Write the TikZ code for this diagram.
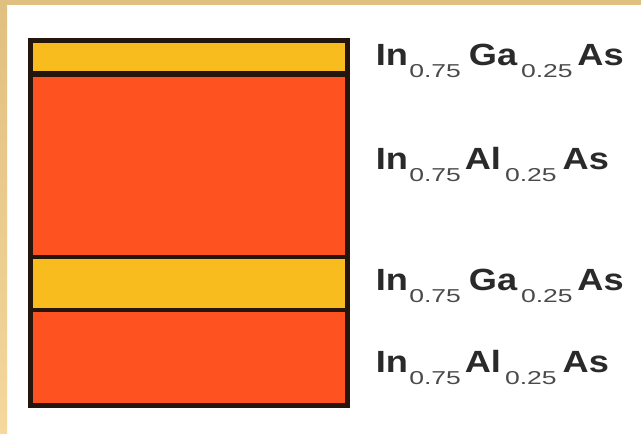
\documentclass[tikz,border=0pt]{standalone}
\usepackage{graphicx}
\usepackage{fontspec}
\setmainfont{Liberation Sans}
\definecolor{layorange}{HTML}{FF5221}
\definecolor{layyellow}{HTML}{F8BC1E}
\definecolor{edgedark}{HTML}{24160C}
\definecolor{frametop}{HTML}{DFC080}
\definecolor{framebot}{HTML}{F6D79C}
\definecolor{txt}{HTML}{2A2A2A}
\definecolor{subtxt}{HTML}{4A4A4A}
\newcommand\mn[1]{\scalebox{1.18}[1]{#1}}
\newcommand\sbx[1]{\raisebox{-9pt}{\fontsize{14}{16}\selectfont\mdseries\color{subtxt}\scalebox{1.42}[1]{#1}}}
\tikzset{
  layer/.style={draw=edgedark, line width=3.75pt},
  lbl/.style={anchor=base west, inner sep=0pt, text=txt,
    font=\fontsize{23}{27}\selectfont\bfseries}
}
\begin{document}
\begin{tikzpicture}[x=0.75pt, y=-0.75pt]
\useasboundingbox (0,0) rectangle (641,434);
\fill[white] (0,0) rectangle (641,434);
% frame bands
\fill[frametop] (0,0) rectangle (641,5);
\shade[top color=frametop, bottom color=framebot] (0,0) rectangle (7,434);
% layers
\fill[layyellow] (30.5,40.5) rectangle (347.5,74);
\fill[layorange] (30.5,74) rectangle (347.5,257);
\fill[layyellow] (30.5,257) rectangle (347.5,310);
\fill[layorange] (30.5,310) rectangle (347.5,405.5);
\draw[edgedark, line width=4.5pt] (30.5,74) -- (347.5,74);
\draw[edgedark, line width=3.5pt] (30.5,257) -- (347.5,257);
\draw[edgedark, line width=3.5pt] (30.5,310) -- (347.5,310);
\draw[layer] (30.5,40.5) rectangle (347.5,405.5);
% labels
\node[lbl] (l1) at (375.5,66) {\mn{In}\kern1pt\sbx{0.75}\kern6pt\mn{Ga}\kern3pt\sbx{0.25}\kern3.5pt\mn{As}};
\node[lbl] (l2) at (375.5,170) {\mn{In}\kern1pt\sbx{0.75}\kern3pt\mn{Al}\kern3pt\sbx{0.25}\kern4.5pt\mn{As}};
\node[lbl] (l3) at (375.5,290) {\mn{In}\kern1pt\sbx{0.75}\kern6pt\mn{Ga}\kern3pt\sbx{0.25}\kern3.5pt\mn{As}};
\node[lbl] (l4) at (375.5,372) {\mn{In}\kern1pt\sbx{0.75}\kern3pt\mn{Al}\kern3pt\sbx{0.25}\kern4.5pt\mn{As}};
\end{tikzpicture}
\end{document}
